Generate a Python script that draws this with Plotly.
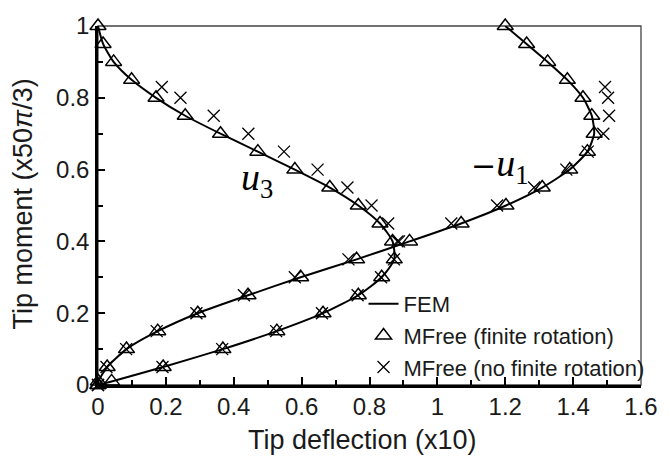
import plotly.graph_objects as go

# ---------------- data ----------------
# Tip moment levels (x 50*pi/3)
moment_fr = [0, 0.01, 0.05, 0.1, 0.15, 0.2, 0.25, 0.3, 0.35, 0.4, 0.45, 0.5,
             0.55, 0.6, 0.65, 0.7, 0.75, 0.8, 0.85, 0.9, 0.95, 1.0]
# MFree (finite rotation) tip deflections (x10)
u3_fr = [0, 0.04, 0.192, 0.368, 0.527, 0.663, 0.767, 0.836, 0.873, 0.868, 0.831, 0.767,
         0.683, 0.58, 0.471, 0.361, 0.257, 0.171, 0.099, 0.046, 0.015, 0.0]
mu1_fr = [0, 0.001, 0.027, 0.084, 0.176, 0.294, 0.442, 0.597, 0.762, 0.918, 1.07, 1.202,
          1.309, 1.39, 1.442, 1.462, 1.455, 1.429, 1.383, 1.325, 1.263, 1.2]

# FEM reference curve (passes through the same levels)
moment_fem = moment_fr
u3_fem = u3_fr
mu1_fem = mu1_fr

# MFree (no finite rotation)
moment_nfr = [0, 0.05, 0.1, 0.15, 0.2, 0.25, 0.3, 0.35, 0.4, 0.45, 0.5, 0.55,
              0.6, 0.65, 0.7, 0.75, 0.8, 0.83]
u3_nfr = [0, 0.19, 0.366, 0.525, 0.66, 0.765, 0.834, 0.872, 0.887, 0.855, 0.806, 0.735,
          0.647, 0.548, 0.443, 0.341, 0.243, 0.188]
mu1_nfr = [0, 0.025, 0.083, 0.173, 0.29, 0.43, 0.58, 0.738, 0.882, 1.041, 1.176, 1.285,
           1.38, 1.443, 1.489, 1.506, 1.503, 1.494]

x_ticks = [0, 0.2, 0.4, 0.6, 0.8, 1.0, 1.2, 1.4, 1.6]
x_tick_text = ["0", "0.2", "0.4", "0.6", "0.8", "1", "1.2", "1.4", "1.6"]
y_ticks = [0, 0.2, 0.4, 0.6, 0.8, 1.0]
y_tick_text = ["0", "0.2", "0.4", "0.6", "0.8", "1"]

FONT = "Liberation Sans, Arial, sans-serif"
TXT = "#1a1a1a"

fig = go.Figure()

# FEM lines
fig.add_trace(go.Scatter(x=u3_fem, y=moment_fem, mode="lines", name="FEM",
                         legendgroup="fem",
                         line=dict(color="black", width=2, shape="spline", smoothing=0.6)))
fig.add_trace(go.Scatter(x=mu1_fem, y=moment_fem, mode="lines", name="FEM",
                         legendgroup="fem", showlegend=False,
                         line=dict(color="black", width=2, shape="spline", smoothing=0.6)))

tri = dict(symbol="triangle-up-open", size=14, color="black", line=dict(width=1.5, color="black"))
crs = dict(symbol="x-thin-open", size=12, color="black", line=dict(width=1.3, color="black"))

fig.add_trace(go.Scatter(x=u3_fr, y=moment_fr, mode="markers", name="MFree (finite rotation)",
                         legendgroup="fr", marker=tri, cliponaxis=False))
fig.add_trace(go.Scatter(x=mu1_fr, y=moment_fr, mode="markers", name="MFree (finite rotation)",
                         legendgroup="fr", showlegend=False, marker=tri, cliponaxis=False))
fig.add_trace(go.Scatter(x=u3_nfr, y=moment_nfr, mode="markers", name="MFree (no finite rotation)",
                         legendgroup="nfr", marker=crs, cliponaxis=False))
fig.add_trace(go.Scatter(x=mu1_nfr, y=moment_nfr, mode="markers", name="MFree (no finite rotation)",
                         legendgroup="nfr", showlegend=False, marker=crs, cliponaxis=False))

axis_common = dict(showgrid=False, zeroline=False, showline=True, linecolor="black",
                   linewidth=2.5, ticks="inside", tickwidth=2, tickcolor="black",
                   tickfont=dict(family=FONT, size=24, color=TXT))

fig.update_xaxes(range=[0, 1.6], tickvals=x_ticks, ticktext=x_tick_text, ticklen=8,
                 minor=dict(ticks="inside", dtick=0.1, ticklen=5, tickwidth=2, tickcolor="black"),
                 ticklabelstandoff=-2, **axis_common)
fig.update_yaxes(range=[0, 1], tickvals=y_ticks, ticktext=y_tick_text, ticklen=7,
                 minor=dict(ticks="inside", dtick=0.1, ticklen=5, tickwidth=2, tickcolor="black"),
                 ticklabelstandoff=1, **axis_common)

# thin frame (top / right)
fig.add_shape(type="rect", xref="paper", yref="paper", x0=0, x1=1, y0=0, y1=1,
              line=dict(color="#444", width=1.3), layer="below")

annots = [
    dict(text="Tip deflection (x10)", x=0.487, y=-0.152, xref="paper", yref="paper",
         showarrow=False, xanchor="center", yanchor="middle",
         font=dict(family=FONT, size=27, color=TXT)),
    dict(text="Tip moment (x50<i>π</i>/3)", x=-0.138, y=0.503, xref="paper", yref="paper",
         showarrow=False, xanchor="center", yanchor="middle", textangle=-90,
         font=dict(family=FONT, size=27, color=TXT)),
    dict(text="<i>u</i><sub>3</sub>", x=0.469, y=0.571, xref="x", yref="y",
         showarrow=False, xanchor="center", yanchor="middle",
         font=dict(family="Liberation Serif, serif", size=38, color="black")),
    dict(text="<span style='font-family:DejaVu Serif;font-size:30px'>−</span><i>u</i><sub>1</sub>",
         x=1.182, y=0.611, xref="x", yref="y",
         showarrow=False, xanchor="center", yanchor="middle",
         font=dict(family="Liberation Serif, serif", size=38, color="black")),
]

fig.update_layout(
    width=670, height=460,
    margin=dict(l=97.5, r=19, t=17, b=75),
    paper_bgcolor="white", plot_bgcolor="white",
    annotations=annots,
    legend=dict(x=0.489, y=0.284, xanchor="left", yanchor="top",
                bgcolor="rgba(0,0,0,0)", borderwidth=0,
                font=dict(family=FONT, size=22, color=TXT),
                tracegroupgap=0, itemwidth=30),
    showlegend=True,
)

fig.write_html("out.html")
